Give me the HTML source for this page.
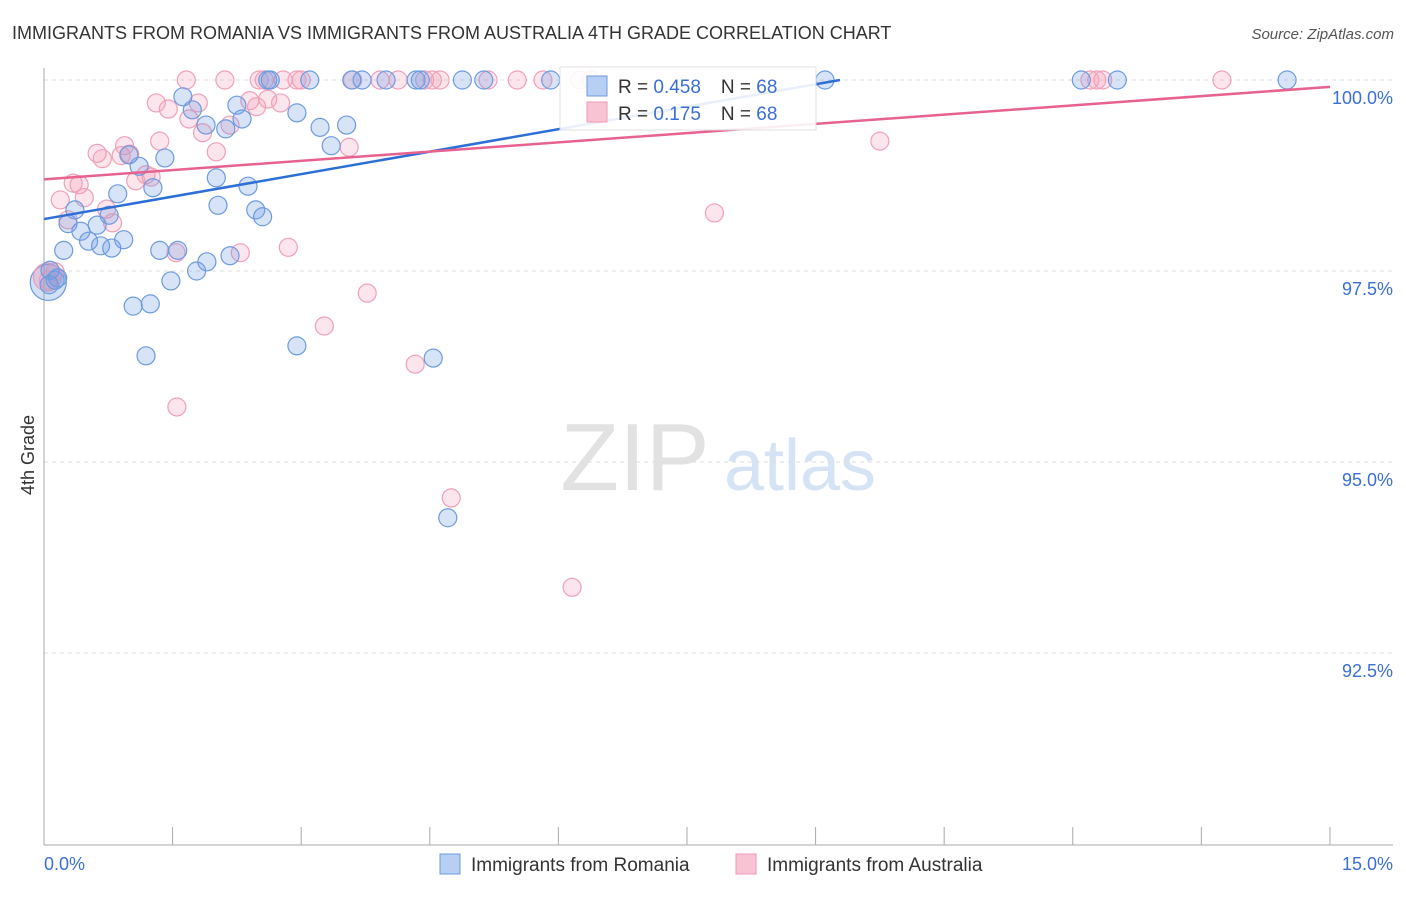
<!DOCTYPE html>
<html><head><meta charset="utf-8"><style>
body{margin:0;background:#fff;font-family:"Liberation Sans",sans-serif;}
svg text{font-family:"Liberation Sans",sans-serif;}
</style></head><body>
<svg id="chart" width="1406" height="892">
<text x="12" y="39" font-size="18" fill="#333">IMMIGRANTS FROM ROMANIA VS IMMIGRANTS FROM AUSTRALIA 4TH GRADE CORRELATION CHART</text>
<text x="1394" y="39" font-size="15" fill="#555" font-style="italic" text-anchor="end">Source: ZipAtlas.com</text>
<text x="34" y="455" font-size="18" fill="#333" text-anchor="middle" transform="rotate(-90 34 455)">4th Grade</text>
<g><text x="635" y="490" font-size="96" fill="#e2e2e2" font-family="Liberation Serif" text-anchor="middle">ZIP</text><text x="800" y="490" font-size="72" fill="#d5e3f5" text-anchor="middle">atlas</text></g>
<g id="grid"></g><g id="axes"></g><g id="pts"></g><g id="lines"></g>
<g>
<rect x="560" y="67" width="256" height="63" fill="#fff" stroke="#ddd" opacity="0.9"/>
<rect x="587" y="76" width="20" height="20" fill="#b7cff2" stroke="#6d9be0"/>
<rect x="587" y="102" width="20" height="20" fill="#f8c4d4" stroke="#ef9ab4"/>
<text x="618" y="93" font-size="19" fill="#333">R = <tspan fill="#3b6fd4">0.458</tspan><tspan dx="20">N = </tspan><tspan fill="#3b6fd4">68</tspan></text>
<text x="618" y="120" font-size="19" fill="#333">R = <tspan fill="#3b6fd4"> 0.175</tspan><tspan dx="20">N = </tspan><tspan fill="#3b6fd4">68</tspan></text>
</g>
<g>
<rect x="440" y="854" width="20" height="20" fill="#b7cff2" stroke="#6d9be0"/>
<text x="471" y="871" font-size="19" fill="#333">Immigrants from Romania</text>
<rect x="736" y="854" width="20" height="20" fill="#f8c4d4" stroke="#ef9ab4"/>
<text x="767" y="871" font-size="19" fill="#333">Immigrants from Australia</text>
</g>
</svg>
<script>
const yTicks=[100,97.5,95,92.5];
const yTickLabels=["100.0%","97.5%","95.0%","92.5%"];
const xTickLabels=["0.0%","15.0%"];
const blueX=[2.64,3.10,3.59,3.99,4.34,4.39,4.88,5.13,5.91,9.11,12.10,12.52,14.50,2.61,3.71,1.62,1.73,2.25,2.31,2.95,3.22,3.53,3.35,1.89,2.12,1.41,1.11,0.99,1.27,2.01,2.38,0.86,0.36,2.03,2.47,2.55,0.76,0.62,0.28,0.43,0.52,0.66,0.79,0.93,0.23,1.35,1.56,1.90,2.17,1.78,1.48,0.07,0.13,0.16,1.04,1.24,1.19,2.95,4.54,4.71,0.06];
const blueY=[100,100,100,100,100,100,100,100,100,100,100,100,100,100,100,99.78,99.61,99.67,99.49,99.57,99.38,99.41,99.14,99.41,99.36,98.98,98.87,99.02,98.59,98.72,98.61,98.51,98.30,98.36,98.30,98.21,98.23,98.10,98.12,98.02,97.89,97.83,97.80,97.91,97.77,97.77,97.77,97.62,97.70,97.50,97.37,97.51,97.38,97.41,97.04,97.07,96.39,96.52,96.36,94.27,97.32];
const pinkX=[1.66,2.11,2.51,2.57,2.79,2.95,3.00,3.60,3.92,4.13,4.44,4.53,4.62,5.18,5.52,5.82,6.25,6.38,12.20,12.28,12.35,13.74,1.31,1.45,1.80,1.69,1.85,2.17,2.48,2.40,2.61,2.76,2.01,1.35,0.94,0.62,0.68,1.00,0.90,1.19,1.07,1.25,0.34,0.41,0.47,0.19,0.73,0.28,0.80,1.54,2.29,2.85,3.77,3.27,4.33,1.55,4.75,6.16,7.82,9.75,3.56,0.05,0.13];
const pinkY=[100,100,100,100,100,100,100,100,100,100,100,100,100,100,100,100,100,100,100,100,100,100,99.70,99.62,99.70,99.49,99.31,99.41,99.65,99.73,99.75,99.70,99.06,99.20,99.14,99.04,98.97,99.03,99.01,98.76,98.68,98.73,98.65,98.63,98.46,98.43,98.31,98.17,98.13,97.74,97.74,97.81,97.21,96.78,96.28,95.72,94.53,93.36,98.26,99.20,99.12,97.38,97.49];
const bigBlueX=[0.05],bigBlueY=[97.35],bigPinkX=[0.04],bigPinkY=[97.42];
const blueTrend=[[0,98.18],[9.285,100]];
const pinkTrend=[[0,98.70],[15,99.91]];
const NS='http://www.w3.org/2000/svg';
const sx=v=>44+v*85.73, sy=v=>80+(100-v)*76.4;
function mk(tag,attrs,parent){const e=document.createElementNS(NS,tag);for(const k in attrs)e.setAttribute(k,attrs[k]);document.getElementById(parent).appendChild(e);return e;}
yTicks.forEach((t,i)=>{
 const l=mk('line',{x1:44,x2:1393,y1:sy(t),y2:sy(t),stroke:'#ddd','stroke-dasharray':'4,4'},'grid');
 
 
 const tx=mk('text',{x:1393,y:sy(t)+24,'font-size':18,fill:'#3b6fd4','text-anchor':'end'},'grid');
 tx.textContent=yTickLabels[i];
 
 
});
const ax=mk('line',{x1:44,x2:44,y1:68,y2:845,stroke:'#aaa'},'axes');


const bx=mk('line',{x1:44,x2:1393,y1:845,y2:845,stroke:'#aaa'},'axes');


for(let i=0;i<=10;i++){
 const t=mk('line',{x1:sx(i*1.5),x2:sx(i*1.5),y1:827,y2:845,stroke:'#aaa'},'axes');
 
 
}
[[0,'start'],[15,'end']].forEach((p,i)=>{
 const t=mk('text',{x:i?1393:44,y:870,'font-size':18,fill:'#3b6fd4','text-anchor':p[1]},'axes');
 t.textContent=xTickLabels[i];
 
 
});
function dots(xs,ys,r,fill,stroke,name){xs.forEach((x,i)=>{
 const c=mk('circle',{cx:sx(x),cy:sy(ys[i]),r:r,fill:fill,stroke:stroke,'stroke-width':1.2},'pts');
 
 
});}
dots(bigBlueX,bigBlueY,18,'rgba(110,155,225,0.3)','#6d9be0','romania-point');
dots(bigPinkX,bigPinkY,14,'rgba(240,140,170,0.3)','#ef9ab4','australia-point');
dots(pinkX,pinkY,9,'rgba(245,160,185,0.28)','#f0a0b8','australia-point');
dots(blueX,blueY,9,'rgba(110,155,225,0.28)','#6d9be0','romania-point');
function trend(tr,col,name){const l=mk('line',{x1:sx(tr[0][0]),y1:sy(tr[0][1]),x2:sx(tr[1][0]),y2:sy(tr[1][1]),stroke:col,'stroke-width':2.5},'lines');
 
 }
trend(blueTrend,'#2d6fd6','romania-trend-line');
trend(pinkTrend,'#e8628f','australia-trend-line');
</script>
</body></html>
